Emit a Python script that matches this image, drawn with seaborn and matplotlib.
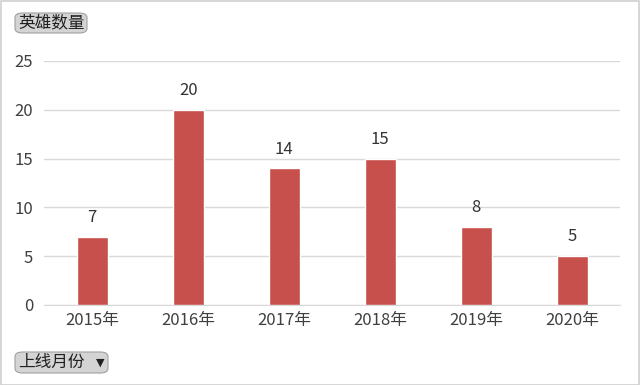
import numpy as np
import pandas as pd
import seaborn as sns
import matplotlib.pyplot as plt
from matplotlib.patches import FancyBboxPatch, Rectangle

years = ["2015年", "2016年", "2017年", "2018年", "2019年", "2020年"]
counts = [7, 20, 14, 15, 8, 5]
y_ticks = [0, 5, 10, 15, 20, 25]

df = pd.DataFrame({"year": years, "count": counts})

sns.set_style("white")
plt.rcParams['font.family'] = ['Noto Sans CJK SC', 'DejaVu Sans']

fig = plt.figure(figsize=(6.4, 3.85), dpi=100)
fig.patch.set_facecolor("white")
ax = fig.add_axes([0.069, 0.2078, 0.9, 0.6338])

sns.barplot(data=df, x="year", y="count", color="#C8504C", width=0.32,
            saturation=1, ax=ax, zorder=3)

for p, v in zip(ax.patches, counts):
    ax.text(p.get_x() + p.get_width() / 2, v + 1.1, str(v),
            ha="center", va="bottom", fontsize=12, color="#333333")

ax.set_ylim(0, 25)
ax.set_yticks(y_ticks)
ax.set_xlim(-0.5, 5.5)
ax.yaxis.grid(True, color="#d9d9d9", linewidth=1, zorder=0)
ax.set_axisbelow(True)
for s in ["top", "right", "left"]:
    ax.spines[s].set_visible(False)
ax.spines["bottom"].set_color("#d9d9d9")
ax.set_xlabel("")
ax.set_ylabel("")
ax.tick_params(axis="both", length=0, labelsize=12, labelcolor="#404040")
ax.tick_params(axis="y", pad=8)
ax.tick_params(axis="x", pad=5)

# outer frame
fig.patches.append(Rectangle((0.001, 0.001), 0.997, 0.997, transform=fig.transFigure,
                             fill=False, edgecolor="#d0d0d0", linewidth=1.2))

# field buttons
def button(x, y, w, h, label):
    fig.patches.append(FancyBboxPatch((x / 640, 1 - (y + h) / 385), w / 640, h / 385,
                                      boxstyle="round,pad=0,rounding_size=0.012",
                                      transform=fig.transFigure, facecolor="#d4d4d4",
                                      edgecolor="#a0a0a0", linewidth=0.8))
    fig.text((x + 3) / 640, 1 - (y + h / 2) / 385, label, ha="left", va="center",
             fontsize=12, color="#202020")

button(15, 13, 72, 20, "英雄数量")
button(15, 352, 93, 21, "上线月份")
fig.text(100 / 640, 1 - 363 / 385, "▼", ha="center", va="center",
         fontsize=8, color="#202020", family="DejaVu Sans")

fig.savefig("out.png", dpi=100)
